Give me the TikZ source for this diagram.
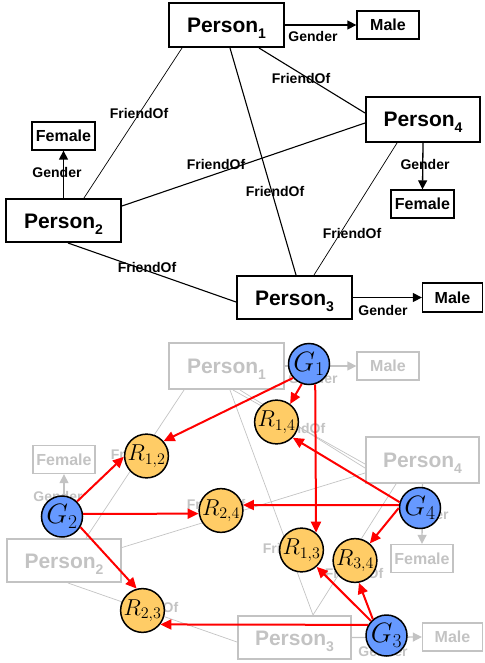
\documentclass[tikz,border=0pt]{standalone}
\usepackage{fix-cm}
\usepackage{fontspec}
\setmainfont{Liberation Sans}
\usetikzlibrary{arrows.meta}
\definecolor{gblue}{RGB}{102,153,255}
\definecolor{gorange}{RGB}{255,204,102}
\definecolor{lgrey}{RGB}{195,195,195}
\newcommand{\pers}[1]{Person\raisebox{-6pt}{\fontsize{14}{14}\selectfont #1}}
\tikzset{
  person/.style={draw, line width=2pt, minimum width=115pt, minimum height=44pt, inner sep=0pt,
    font=\fontsize{21}{21}\selectfont\bfseries, text height=15pt, text depth=0pt},
  valbox/.style={draw, line width=1.3pt, minimum width=62pt, minimum height=28pt, inner sep=0pt,
    font=\fontsize{16}{16}\selectfont\bfseries, text height=11.5pt, text depth=0pt},
  lbl/.style={font=\fontsize{14}{14}\selectfont\bfseries, inner sep=0pt, text height=10pt, text depth=0pt},
  frline/.style={line width=1.1pt},
  frthin/.style={line width=0.7pt},
  genarrow/.style={line width=1.3pt, -{Triangle[length=9pt,width=9pt]}},
  gnode/.style={circle, draw, line width=1.5pt, fill=gblue, minimum size=41pt, inner sep=0pt,
    font=\fontsize{28}{28}\selectfont},
  rnode/.style={circle, draw, line width=1.5pt, fill=gorange, minimum size=43pt, inner sep=0pt,
    font=\fontsize{23}{23}\selectfont},
  rarr/.style={draw=red, line width=2pt, -{Triangle[length=11pt,width=10pt]}},
}
\begin{document}
\begin{tikzpicture}[x=1pt,y=-1pt]
\useasboundingbox (0,0) rectangle (484,663);
% ---------------- top diagram ----------------
\node[person] (p1) at (226.5,25) {\pers{1}};
\node[valbox] (m1) at (388,25) {Male};
\node[person, minimum width=114pt, minimum height=45pt] (p4) at (423,119.5) {\pers{4}};
\node[valbox, minimum width=63pt] (f4) at (422.5,204) {Female};
\node[person, minimum height=43pt] (p2) at (63.5,220.5) {\pers{2}};
\node[valbox, minimum width=63pt] (f2) at (63.5,136) {Female};
\node[person, minimum height=43pt] (p3) at (294.5,297.5) {\pers{3}};
\node[valbox, minimum width=60pt, minimum height=29pt] (m3) at (452.5,297.5) {Male};

\draw[frthin] ([xshift=14pt]p1.south west) -- ([xshift=79pt]p2.north west);
\draw[frline] ([xshift=62pt]p1.south west) -- ([xshift=60pt]p3.north west);
\draw[frline] ([xshift=91pt]p1.south west) -- ([yshift=6.5pt]p4.west);
\draw[frline] ([yshift=14.5pt]p2.east) -- ([yshift=-3.5pt]p4.west);
\draw[frline] ([xshift=63pt]p2.south west) -- ([yshift=-4.5pt]p3.west);
\draw[frthin] ([xshift=32pt]p4.south west) -- ([xshift=78pt]p3.north west);

\draw[genarrow] (p1.east) -- (m1.west);
\draw[genarrow] (p2.north) -- (f2.south);
\draw[genarrow] (p4.south) -- (f4.north);
\draw[genarrow] (p3.east) -- (m3.west);

\node[lbl] (g1) at (313,37) {Gender};
\node[lbl] (g2) at (57,173) {Gender};
\node[lbl] (g4) at (425,165) {Gender};
\node[lbl] (g3) at (383,310) {Gender};
\node[lbl] (l12) at (139,114) {FriendOf};
\node[lbl] (l14) at (301,79) {FriendOf};
\node[lbl] (l24) at (216,165) {FriendOf};
\node[lbl] (l13) at (275,191) {FriendOf};
\node[lbl] (l34) at (352,233) {FriendOf};
\node[lbl] (l23) at (147,267) {FriendOf};

% ---------------- bottom diagram (grey background) ----------------
\begin{scope}[draw=lgrey, text=lgrey, color=lgrey]
\node[person, draw=lgrey, minimum height=46pt] (q1) at (226.5,366) {\pers{1}};
\node[valbox, draw=lgrey] (n1) at (388,366) {Male};
\node[person, draw=lgrey, minimum width=113pt, minimum height=46pt] (q4) at (422.5,460) {\pers{4}};
\node[valbox, draw=lgrey] (e4) at (422,558.5) {Female};
\node[person, draw=lgrey, minimum width=114pt, minimum height=43pt] (q2) at (64,560.5) {\pers{2}};
\node[valbox, draw=lgrey] (e2) at (64,459.5) {Female};
\node[person, draw=lgrey, minimum width=113pt, minimum height=43pt] (q3) at (294.5,637.5) {\pers{3}};
\node[valbox, draw=lgrey, minimum width=60pt] (n3) at (452.5,637) {Male};

\draw[frthin] ([xshift=16pt]q1.south west) -- ([xshift=80pt]q2.north west);
\draw[frthin] ([xshift=62pt]q1.south west) -- ([xshift=76pt]q3.north west);
\draw[frthin] ([xshift=31pt]q4.south west) -- ([xshift=76pt]q3.north west);
\draw[frthin] ([xshift=65pt]q1.south west) -- ([yshift=-4pt]q4.west);
\draw[frthin] ([xshift=72pt]q1.south west) -- ([yshift=-8pt]q4.west);
\draw[frthin] ([yshift=13pt]q2.east) -- ([yshift=-13pt]q4.west);
\draw[frthin] ([xshift=62pt]q2.south west) -- ([yshift=-4.5pt]q3.west);

\draw[genarrow] (q1.east) -- (n1.west);
\draw[genarrow] (q2.north) -- (e2.south);
\draw[genarrow] (q4.south) -- (e4.north);
\draw[genarrow] (q3.east) -- (n3.west);

\node[lbl] (h1) at (313,378) {Gender};
\node[lbl] (h2) at (58,496) {Gender};
\node[lbl] (h4) at (424,514) {Gender};
\node[lbl] (h3) at (383,651) {Gender};
\node[lbl] (k12) at (140,454) {FriendOf};
\node[lbl] (k14) at (296,428) {FriendOf};
\node[lbl] (k24) at (216,504) {FriendOf};
\node[lbl] (k13) at (292,548) {FriendOf};
\node[lbl] (k34) at (354,573) {FriendOf};
\node[lbl] (k23) at (149,607) {FriendOf};
\end{scope}

% ---------------- circles ----------------
\node[gnode] (G1) at (309,364) {$G_1$};
\node[gnode] (G2) at (62,516.5) {$G_2$};
\node[gnode] (G3) at (386.5,635.5) {$G_3$};
\node[gnode] (G4) at (420,508) {$G_4$};
\node[rnode] (R12) at (146.5,456) {$R_{1,2}$};
\node[rnode] (R14) at (276.5,422) {$R_{1,4}$};
\node[rnode] (R24) at (221,510.5) {$R_{2,4}$};
\node[rnode] (R13) at (301.5,550) {$R_{1,3}$};
\node[rnode] (R34) at (355,560.5) {$R_{3,4}$};
\node[rnode] (R23) at (142.5,610.5) {$R_{2,3}$};

% ---------------- red arrows ----------------
\draw[rarr] (G1.221) -- (R12.41);
\draw[rarr] (G1.250) -- (R14.53);
\draw[rarr] (G1.287) -- (R13.50);
\draw[rarr] (G4.164) -- (R14.316);
\draw[rarr] (G4.172) -- (R24.14);
\draw[rarr] (G4.180) -- (R34.49);
\draw[rarr] (G2.45) -- (R12.182);
\draw[rarr] (G2.7) -- (R24.188);
\draw[rarr] (G2.330) -- (R23.105);
\draw[rarr] (G3.150) -- (R23.322);
\draw[rarr] (G3.137) -- (R13.312);
\draw[rarr] (G3.130) -- (R34.280);
\end{tikzpicture}
\end{document}
